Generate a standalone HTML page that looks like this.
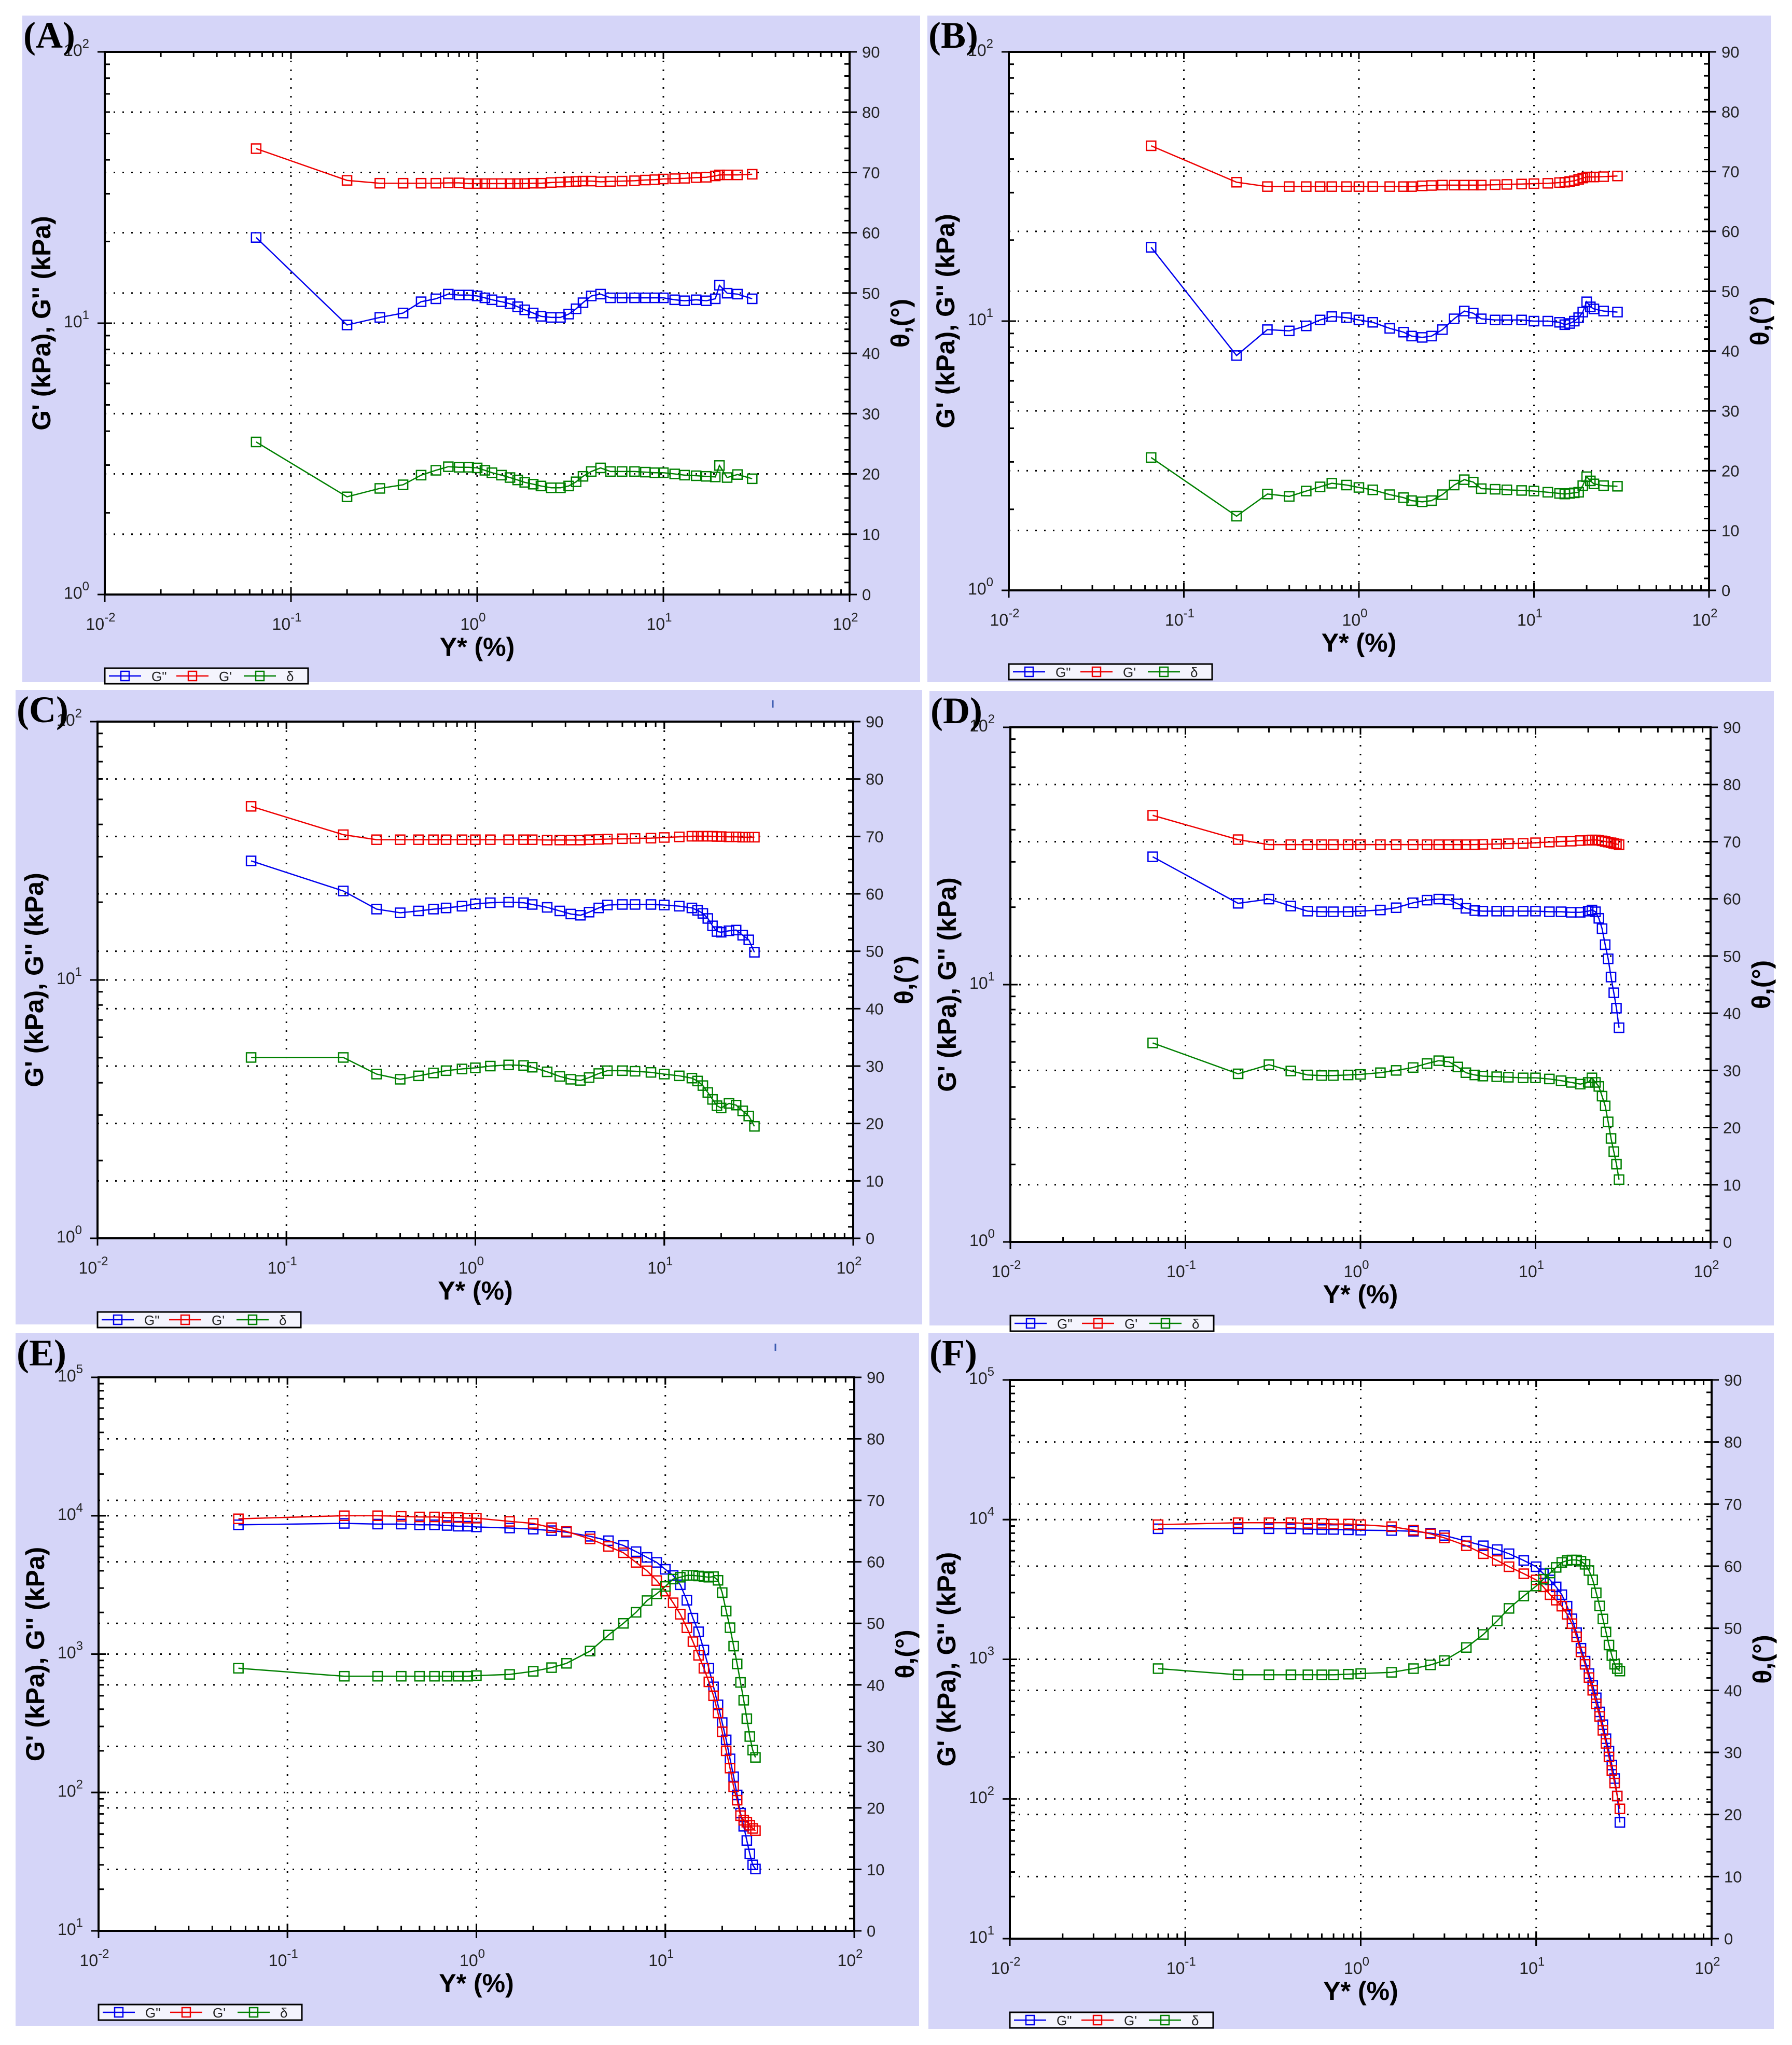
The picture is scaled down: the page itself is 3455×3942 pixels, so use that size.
<!DOCTYPE html>
<html><head><meta charset="utf-8">
<style>
html,body{margin:0;padding:0;background:#fff;}
svg{display:block;}
</style></head>
<body>
<svg id="fig" width="3455" height="3942" viewBox="0 0 3455 3942" xmlns="http://www.w3.org/2000/svg" font-family="Liberation Sans, sans-serif">
<rect x="0" y="0" width="3455" height="3942" fill="#fff"/>
</svg>
<script>
// ---- Panel A data ----
const aStrain = [0.065,0.2,0.3,0.4,0.5,0.6,0.7,0.8,0.9,1.0,1.1,1.2,1.35,1.5,1.65,1.8,2.0,2.2,2.5,2.8,3.1,3.4,3.7,4.1,4.6,5.2,6,7,8,9,10,11.5,13,15,17,19,20,22,25,30];
const aGpp = [20.7,9.85,10.5,10.9,12,12.3,12.8,12.7,12.7,12.6,12.4,12.2,12,11.8,11.5,11.2,10.9,10.6,10.5,10.5,10.8,11.3,11.9,12.6,12.8,12.4,12.4,12.4,12.4,12.4,12.4,12.2,12.1,12.2,12.1,12.3,13.8,12.9,12.8,12.3];
const aGp = [44,33.6,32.8,32.8,32.8,32.8,32.9,32.9,32.7,32.7,32.7,32.7,32.7,32.7,32.7,32.7,32.8,32.8,33,33.1,33.2,33.3,33.4,33.4,33.2,33.3,33.4,33.5,33.7,33.8,34,34.1,34.2,34.4,34.5,34.9,35.2,35.2,35.2,35.4];
const aDelta = [25.3,16.2,17.6,18.2,19.8,20.6,21.2,21.1,21.1,21,20.6,20.2,19.8,19.4,19,18.6,18.3,18,17.7,17.7,18,18.7,19.6,20.4,21,20.4,20.4,20.4,20.3,20.2,20.2,20,19.8,19.7,19.6,19.5,21.4,19.4,19.9,19.2];
// ---- Panel B data ----
const bStrain = [0.065,0.2,0.3,0.4,0.5,0.6,0.7,0.85,1.0,1.2,1.5,1.8,2.0,2.3,2.6,3.0,3.5,4.0,4.5,5.0,6,7,8.5,10,12,14,15,16,17,18,19,20,21,22,25,30];
const bGpp = [18.8,7.45,9.3,9.2,9.6,10.1,10.4,10.3,10.1,9.9,9.4,9.1,8.8,8.7,8.8,9.3,10.2,10.9,10.7,10.2,10.1,10.1,10.1,10,10,9.9,9.7,9.8,10,10.3,10.8,11.8,11.3,11.1,10.9,10.8];
const bGp = [44.8,32.8,31.6,31.6,31.6,31.6,31.6,31.6,31.6,31.6,31.6,31.6,31.6,31.8,31.9,32,32,32,32,32,32.1,32.2,32.3,32.4,32.5,32.7,32.8,33,33.2,33.6,34,34.3,34.3,34.3,34.4,34.6];
const bDelta = [22.2,12.4,16.1,15.7,16.6,17.3,17.9,17.6,17.2,16.8,16,15.5,15,14.8,15,16,17.6,18.5,18.1,17,16.9,16.8,16.7,16.6,16.4,16.2,16.1,16.2,16.3,16.4,17.5,19,18.3,17.8,17.5,17.4];
// ---- Panel C data ----
const cStrain = [0.065,0.2,0.3,0.4,0.5,0.6,0.7,0.85,1.0,1.2,1.5,1.8,2.0,2.4,2.8,3.2,3.6,4.0,4.5,5.0,6,7,8.5,10,12,14,15,16,17,18,19,20,22,24,26,28,30];
const cGpp = [28.9,22.1,18.8,18.2,18.5,18.8,19,19.3,19.7,19.9,20,19.9,19.6,19.1,18.5,18,17.8,18.3,19,19.5,19.6,19.6,19.6,19.5,19.3,19,18.6,18.1,17.3,16.2,15.4,15.3,15.5,15.6,14.9,14.3,12.8];
const cGp = [47,36.5,34.9,34.9,34.9,34.9,34.9,34.9,34.9,34.9,34.9,34.9,34.9,34.8,34.8,34.8,34.8,34.9,35,35.1,35.2,35.3,35.4,35.6,35.8,36,36,36,36,36,35.9,35.9,35.8,35.8,35.7,35.7,35.7];
const cDelta = [31.5,31.5,28.6,27.7,28.3,28.8,29.2,29.5,29.7,30,30.2,30.1,29.8,29,28.2,27.7,27.5,28,28.7,29.2,29.2,29.1,28.9,28.6,28.3,27.9,27.4,26.6,25.4,24.2,23.1,22.7,23.5,23.2,22.2,21.3,19.5];
// ---- Panel D data ----
const dStrain = [0.065,0.2,0.3,0.4,0.5,0.6,0.7,0.85,1.0,1.3,1.6,2.0,2.4,2.8,3.2,3.6,4.0,4.5,5.0,6,7,8.5,10,12,14,16,18,20,21,22,23,24,25,26,27,28,29,30];
const dGpp = [31.4,20.7,21.5,20.2,19.3,19.2,19.2,19.2,19.3,19.5,19.9,20.8,21.3,21.5,21.4,20.6,19.8,19.4,19.3,19.3,19.3,19.3,19.3,19.2,19.2,19.1,19.1,19.3,19.5,19.2,18.1,16.5,14.3,12.6,10.7,9.3,8.1,6.8];
const dGp = [45.5,36.6,35,35,35,35,35,35,35,35,35,35,35,35,35,35,35,35,35.1,35.2,35.3,35.4,35.6,35.8,36,36.1,36.3,36.4,36.5,36.5,36.4,36.2,36,35.8,35.6,35.4,35.2,35];
const dDelta = [34.8,29.4,31,29.9,29.2,29.1,29.1,29.2,29.3,29.6,30,30.5,31.2,31.7,31.5,30.6,29.6,29.2,29,28.9,28.8,28.7,28.7,28.5,28.2,27.9,27.6,27.9,28.7,27.9,27.2,25.5,23.8,21,18.1,15.8,13.6,10.9];
// ---- Panel E data ----
const eStrain = [0.055,0.2,0.3,0.4,0.5,0.6,0.7,0.8,0.9,1.0,1.5,2,2.5,3,4,5,6,7,8,9,10,11,12,13,14,15,16,17,18,19,20,21,22,23,24,25,26,27,28,29,30];
const eGp = [9500,10000,10000,9900,9800,9800,9700,9700,9600,9600,9100,8800,8200,7700,6800,6000,5400,4600,4000,3400,2850,2350,1940,1550,1230,980,790,630,500,375,275,200,150,110,88,68,63,61,58,55,53];
const eGpp = [8600,8800,8700,8700,8600,8600,8500,8400,8400,8300,8150,8000,7800,7600,7100,6600,6100,5500,5000,4600,4100,3700,3170,2450,1820,1450,1070,790,580,430,320,240,175,130,96,71,57,45,36,30,28];
const eDelta = [42.7,41.4,41.4,41.4,41.4,41.4,41.4,41.4,41.4,41.5,41.7,42.2,42.8,43.5,45.5,48.1,50,51.8,53.7,54.8,56,57.2,57.5,57.8,57.8,57.7,57.6,57.5,57.6,57,55,52,49.3,46.3,43.4,40.4,37.5,34.5,31.6,29.4,28.2];
// ---- Panel F data ----
const fStrain = [0.07,0.2,0.3,0.4,0.5,0.6,0.7,0.85,1.0,1.5,2,2.5,3,4,5,6,7,8.5,10,11,12,13,14,15,16,17,18,19,20,21,22,23,24,25,26,27,28,29,30];
const fGp = [9200,9500,9500,9500,9400,9400,9300,9300,9200,8900,8400,7900,7400,6500,5700,5100,4600,4100,3700,3300,2900,2650,2400,2100,1800,1450,1130,920,740,600,480,390,310,250,200,160,130,105,85];
const fGpp = [8600,8600,8600,8600,8550,8500,8500,8450,8400,8350,8250,8000,7700,7000,6500,6100,5700,5100,4600,4100,3700,3300,2900,2400,1950,1550,1200,970,790,650,530,420,340,270,220,175,140,105,68];
const fDelta = [43.5,42.5,42.5,42.5,42.5,42.5,42.5,42.6,42.7,42.9,43.5,44.1,44.8,46.9,49,51.2,53.2,55.2,56.8,57.9,58.9,59.8,60.6,60.9,61,61,60.8,60.3,59.3,57.8,55.7,53.6,51.5,49.4,47.3,45.6,44.2,43.5,43.1];
// axis tick labels
const xTickExp = ["-2","-1","0","1","2"];
const rightTicks = [0,10,20,30,40,50,60,70,80,90];

const panels = [
  {id:'a',label:'(A)',bg:[43,30,1774,1315],plot:[202,100,1638,1146],yExp:[0,2],strain:aStrain,gpp:aGpp,gp:aGp,delta:aDelta},
  {id:'b',label:'(B)',bg:[1788,30,3415,1315],plot:[1945,100,3295,1138],yExp:[0,2],strain:bStrain,gpp:bGpp,gp:bGp,delta:bDelta},
  {id:'c',label:'(C)',bg:[30,1330,1778,2553],plot:[188,1391,1645,2387],yExp:[0,2],strain:cStrain,gpp:cGpp,gp:cGp,delta:cDelta,mark:1490},
  {id:'d',label:'(D)',bg:[1792,1332,3420,2555],plot:[1948,1402,3298,2394],yExp:[0,2],strain:dStrain,gpp:dGpp,gp:dGp,delta:dDelta},
  {id:'e',label:'(E)',bg:[30,2570,1772,3905],plot:[190,2655,1647,3722],yExp:[1,5],strain:eStrain,gpp:eGpp,gp:eGp,delta:eDelta,mark:1495},
  {id:'f',label:'(F)',bg:[1790,2570,3420,3911],plot:[1947,2660,3300,3737],yExp:[1,5],strain:fStrain,gpp:fGpp,gp:fGp,delta:fDelta}
];

const NS='http://www.w3.org/2000/svg';
const svg=document.getElementById('fig');
function mk(tag,attrs,parent){const e=document.createElementNS(NS,tag);for(const k in attrs)e.setAttribute(k,attrs[k]);(parent||svg).appendChild(e);return e;}

panels.forEach(p=>{
  const g=mk('g',{});
  
  
  const [bx0,by0,bx1,by1]=p.bg, [L,T,R,B]=p.plot;
  const bg=mk('rect',{x:bx0,y:by0,width:bx1-bx0,height:by1-by0,fill:'#d5d5f8'},g);
  
  
  const pr=mk('rect',{x:L,y:T,width:R-L,height:B-T,fill:'#fff'},g);
  
  
  const xs=v=>L+(Math.log10(v)+2)/4*(R-L);
  const ys=v=>B-(Math.log10(v)-p.yExp[0])/(p.yExp[1]-p.yExp[0])*(B-T);
  const yr=v=>B-v/90*(B-T);
  // grid
  const grid=mk('g',{stroke:'#000','stroke-width':3,'stroke-dasharray':'3 14',fill:'none'},g);
  
  
  for(let e=-1;e<=1;e++){mk('line',{x1:xs(Math.pow(10,e)),x2:xs(Math.pow(10,e)),y1:T,y2:B},grid);}
  for(let d=10;d<=80;d+=10){mk('line',{x1:L,x2:R,y1:yr(d),y2:yr(d)},grid);}
  for(let e=p.yExp[0]+1;e<p.yExp[1];e++){mk('line',{x1:L,x2:R,y1:ys(Math.pow(10,e)),y2:ys(Math.pow(10,e))},grid);}
  // ticks
  const tk=mk('g',{stroke:'#000','stroke-width':3},g);
  
  
  for(let e=-2;e<2;e++){for(let m=1;m<=10;m++){const x=xs(m*Math.pow(10,e));const maj=(m==1||m==10);
    mk('line',{x1:x,x2:x,y1:B-(maj?14:10),y2:B+(maj?14:0)},tk);mk('line',{x1:x,x2:x,y1:T,y2:T+(maj?14:10)},tk);}}
  for(let e=p.yExp[0];e<p.yExp[1];e++){for(let m=1;m<=10;m++){const y=ys(m*Math.pow(10,e));const maj=(m==1||m==10);
    mk('line',{x1:L-(maj?14:0),x2:L+(maj?14:10),y1:y,y2:y},tk);}}
  for(let d=0;d<=90;d+=2){const y=yr(d);const maj=d%10==0;mk('line',{x1:R-(maj?14:10),x2:R+(maj?14:0),y1:y,y2:y},tk);}
  const fr=mk('rect',{x:L,y:T,width:R-L,height:B-T,fill:'none',stroke:'#000','stroke-width':4},g);
  
  
  // tick labels
  xTickExp.forEach((ex,i)=>{const t=mk('text',{x:xs(Math.pow(10,i-2))-8,y:B+68,'font-size':32,'text-anchor':'middle',fill:'#222'},g);
    
    
    t.textContent='10';const s=mk('tspan',{dy:-16,'font-size':24},t);s.textContent=ex;});
  for(let e=p.yExp[0];e<=p.yExp[1];e++){const t=mk('text',{x:L-30,y:ys(Math.pow(10,e))+8,'font-size':32,'text-anchor':'end',fill:'#222'},g);
    
    
    t.textContent='10';const s=mk('tspan',{dy:-16,'font-size':24},t);s.textContent=String(e);}
  rightTicks.forEach(d=>{const t=mk('text',{x:R+24,y:yr(d)+11,'font-size':31,fill:'#222'},g);
    
    
    t.textContent=d;});
  // titles
  const pl=mk('text',{x:bx0+2,y:by0+62,'font-size':72,'font-weight':'bold','font-family':'Liberation Serif, serif'},g);
  
  
  pl.textContent=p.label;
  const yt=mk('text',{x:0,y:0,'font-size':50,'font-weight':'bold','text-anchor':'middle',transform:`translate(${L-105},${(T+B)/2}) rotate(-90)`},g);
  
  
  yt.textContent="G' (kPa), G'' (kPa)";
  const rt=mk('text',{x:0,y:0,'font-size':50,'font-weight':'bold','text-anchor':'middle',transform:`translate(${R+115},${(T+B)/2}) rotate(-90)`},g);
  
  
  rt.textContent='θ,(°)';
  const xt=mk('text',{x:(L+R)/2,y:B+118,'font-size':50,'font-weight':'bold','text-anchor':'middle'},g);
  
  
  xt.textContent='Y* (%)';
  if(p.mark){const m=mk('line',{x1:p.mark,x2:p.mark,y1:by0+20,y2:by0+34,stroke:'#3a5ab0','stroke-width':3},g);
    
    }
  // series
  const series=[{v:p.gpp,c:'#0000ee',f:ys,n:'g-double-prime'},{v:p.gp,c:'#ee0000',f:ys,n:'g-prime'},{v:p.delta,c:'#008000',f:yr,n:'delta'}];
  series.forEach(s=>{
    const sg=mk('g',{},g);
    
    
    const pts=p.strain.map((x,i)=>[xs(x),s.f(s.v[i])]);
    mk('polyline',{points:pts.map(q=>q.join(',')).join(' '),fill:'none',stroke:s.c,'stroke-width':2.5},sg);
    pts.forEach(q=>{const r=mk('rect',{x:q[0]-9,y:q[1]-9,width:18,height:18,fill:'none',stroke:s.c,'stroke-width':2.5},sg);
      
      });
  });
  // legend
  const lg=mk('g',{},g);
  
  
  const ly=B+142;
  mk('rect',{x:L,y:ly,width:392,height:30,fill:'#f4f4fd',stroke:'#000','stroke-width':3},lg);
  [['#0000ee','G"'],['#ee0000',"G'"],['#008000','δ']].forEach((it,i)=>{
    const x0=L+8+i*130;
    const e=mk('g',{},lg);
    
    
    mk('line',{x1:x0,x2:x0+62,y1:ly+15,y2:ly+15,stroke:it[0],'stroke-width':2.5},e);
    mk('rect',{x:x0+23,y:ly+6,width:16,height:18,fill:'none',stroke:it[0],'stroke-width':2.5},e);
    const t=mk('text',{x:x0+82,y:ly+25,'font-size':26,fill:'#222'},e);t.textContent=it[1];
  });
});
</script>
</body></html>
